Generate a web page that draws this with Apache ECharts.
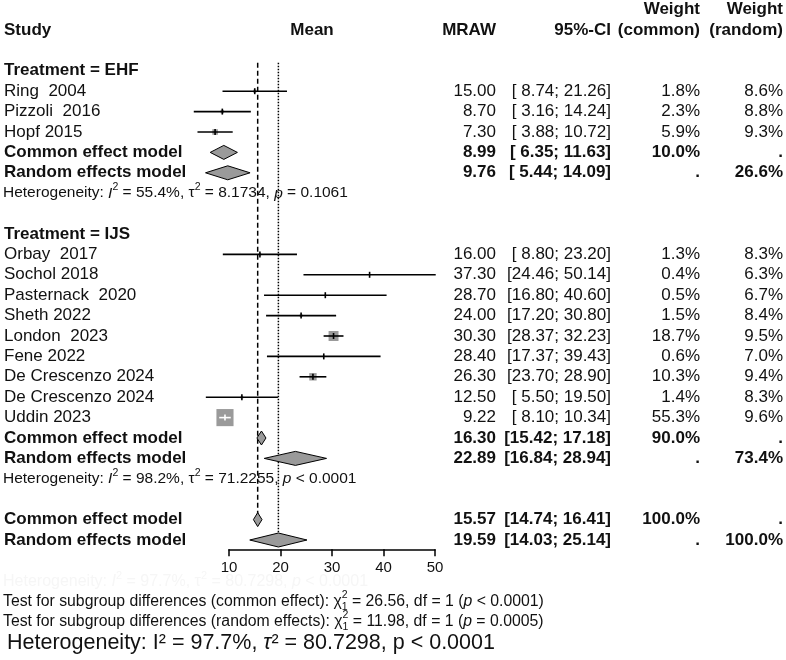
<!DOCTYPE html>
<html><head><meta charset="utf-8">
<script src="https://cdn.jsdelivr.net/npm/echarts@6/dist/echarts.min.js"></script>
<style>html,body{margin:0;padding:0;background:#fff}#chart{width:786px;height:660px}</style>
</head><body><div id="chart"></div>
<script>
// ---------------- data ----------------
const studyLabels = ["Ring  2004","Pizzoli  2016","Hopf 2015","Orbay  2017","Sochol 2018","Pasternack  2020","Sheth 2022","London  2023","Fene 2022","De Crescenzo 2024","De Crescenzo 2024","Uddin 2023"];
const studyMean  = [15.00, 8.70, 7.30, 16.00, 37.30, 28.70, 24.00, 30.30, 28.40, 26.30, 12.50, 9.22];
const studyLower = [8.74, 3.16, 3.88, 8.80, 24.46, 16.80, 17.20, 28.37, 17.37, 23.70, 5.50, 8.10];
const studyUpper = [21.26, 14.24, 10.72, 23.20, 50.14, 40.60, 30.80, 32.23, 39.43, 28.90, 19.50, 10.34];
const weightCommon = [1.8, 2.3, 5.9, 1.3, 0.4, 0.5, 1.5, 18.7, 0.6, 10.3, 1.4, 55.3];
const weightRandom = [8.6, 8.8, 9.3, 8.3, 6.3, 6.7, 8.4, 9.5, 7.0, 9.4, 8.3, 9.6];

const groupNames = ["EHF", "IJS"];
const groupSizes = [3, 9];
const groupCommon = [[8.99, 6.35, 11.63], [16.30, 15.42, 17.18]];
const groupCommonWeight = [10.0, 90.0];
const groupRandom = [[9.76, 5.44, 14.09], [22.89, 16.84, 28.94]];
const groupRandomWeight = [26.6, 73.4];
const groupI2 = ["55.4%", "98.2%"];
const groupTau2 = ["8.1734", "71.2255"];
const groupP = ["= 0.1061", "< 0.0001"];

const overallCommon = [15.57, 14.74, 16.41];
const overallRandom = [19.59, 14.03, 25.14];
const overallI2 = "97.7%", overallTau2 = "80.7298", overallP = "< 0.0001";
const testCommon = ["26.56", "1", "< 0.0001"];
const testRandom = ["11.98", "1", "= 0.0005"];
const axisTicks = [10, 20, 30, 40, 50];

// ---------------- layout helpers ----------------
const FONT = "'Liberation Sans', Arial, Helvetica, sans-serif";
const INK = '#111';
const GRAY = '#9a9a9a';
const ROW_FS = 17, HET_FS = 15.5, TEST_FS = 15.8, BIG_FS = 21.5;
const COL = { label: 4, mean: 496, ci: 611, wc: 700, wr: 783 };

const mctx = document.createElement('canvas').getContext('2d');
function measure(t, size, weight, style) {
  mctx.font = (style || 'normal') + ' ' + (weight || 'normal') + ' ' + size + 'px ' + FONT;
  return mctx.measureText(t).width;
}
function txt(t, x, y, o) {
  o = o || {};
  return {
    type: 'text', x: x, y: y, silent: true,
    style: {
      text: t, fill: o.fill || INK, fontSize: o.size || ROW_FS, fontFamily: FONT,
      fontWeight: o.weight || 'normal', fontStyle: o.style || 'normal',
      textAlign: o.align || 'left', textVerticalAlign: 'middle'
    }
  };
}
// sequence of text runs (superscripts, stacked sub/sup) placed with measured widths
function runs(pieces, x, y, base, fill) {
  const out = [];
  let cx = x;
  pieces.forEach(p => {
    if (p.stack) {
      let w = 0;
      p.stack.forEach(s => {
        const sz = s.size || base * 0.68;
        out.push(txt(s.t, cx, y + s.dy, { size: sz, fill: fill }));
        w = Math.max(w, measure(s.t, sz));
      });
      cx += w;
    } else {
      const sz = p.size || base;
      out.push(txt(p.t, cx, y + (p.dy || 0), { size: sz, style: p.style, weight: p.weight, fill: fill }));
      cx += measure(p.t, sz, p.weight, p.style);
    }
  });
  return out;
}
function hetPieces(i2, tau2, p, base) {
  const sup = { size: base * 0.68, dy: -base * 0.38 };
  return [
    { t: 'Heterogeneity: ' }, { t: 'I', style: 'italic' }, Object.assign({ t: '2' }, sup),
    { t: ' = ' + i2 + ', τ' }, Object.assign({ t: '2' }, sup),
    { t: ' = ' + tau2 + ', ' }, { t: 'p', style: 'italic' }, { t: ' ' + p }
  ];
}
const fmt = v => v.toFixed(2);
const fmtCI = (lo, hi) => '[' + (lo < 10 ? ' ' : '') + fmt(lo) + '; ' + (hi < 10 ? ' ' : '') + fmt(hi) + ']';
const fmtW = v => v.toFixed(1) + '%';

// ---------------- rows ----------------
const rows = [{ row: 0, kind: 'header' }];
const studyRow = [];
const modelMarks = []; // [mean, lo, hi, row]
let r = 2, si = 0;
groupNames.forEach((g, gi) => {
  rows.push({ row: r++, kind: 'group', label: 'Treatment = ' + g });
  for (let k = 0; k < groupSizes[gi]; k++) { studyRow[si] = r; rows.push({ row: r++, kind: 'study', i: si }); si++; }
  rows.push({ row: r, kind: 'model', label: 'Common effect model', est: groupCommon[gi], wc: fmtW(groupCommonWeight[gi]), wr: '.' });
  modelMarks.push(groupCommon[gi].concat([r++]));
  rows.push({ row: r, kind: 'model', label: 'Random effects model', est: groupRandom[gi], wc: '.', wr: fmtW(groupRandomWeight[gi]) });
  modelMarks.push(groupRandom[gi].concat([r++]));
  rows.push({ row: r++, kind: 'het', gi: gi });
  r++;
});
const overallCommonRow = r;
rows.push({ row: r, kind: 'model', label: 'Common effect model', est: overallCommon, wc: '100.0%', wr: '.' });
modelMarks.push(overallCommon.concat([r++]));
const overallRandomRow = r;
rows.push({ row: r, kind: 'model', label: 'Random effects model', est: overallRandom, wc: '.', wr: '100.0%' });
modelMarks.push(overallRandom.concat([r++]));

// ---------------- chart ----------------
const chart = echarts.init(document.getElementById('chart'), null, { renderer: 'canvas' });

const textSeries = {
  type: 'custom', xAxisIndex: 0, yAxisIndex: 0, clip: false, silent: true, z: 5,
  data: rows.map(d => [0, d.row]),
  renderItem: function (params, api) {
    const d = rows[params.dataIndex];
    const y = api.coord([0, api.value(1)])[1];
    const ch = [];
    if (d.kind === 'header') {
      const yt = y - 20.4;
      ch.push(txt('Study', COL.label, y, { weight: 'bold' }));
      ch.push(txt('Mean', 312, y, { weight: 'bold', align: 'center' }));
      ch.push(txt('MRAW', COL.mean, y, { weight: 'bold', align: 'right' }));
      ch.push(txt('95%-CI', COL.ci, y, { weight: 'bold', align: 'right' }));
      ch.push(txt('Weight', COL.wc, yt, { weight: 'bold', align: 'right' }));
      ch.push(txt('(common)', COL.wc, y, { weight: 'bold', align: 'right' }));
      ch.push(txt('Weight', COL.wr, yt, { weight: 'bold', align: 'right' }));
      ch.push(txt('(random)', COL.wr, y, { weight: 'bold', align: 'right' }));
    } else if (d.kind === 'group') {
      ch.push(txt(d.label, COL.label, y, { weight: 'bold' }));
    } else if (d.kind === 'study') {
      const i = d.i;
      ch.push(txt(studyLabels[i], COL.label, y));
      ch.push(txt(fmt(studyMean[i]), COL.mean, y, { align: 'right' }));
      ch.push(txt(fmtCI(studyLower[i], studyUpper[i]), COL.ci, y, { align: 'right' }));
      ch.push(txt(fmtW(weightCommon[i]), COL.wc, y, { align: 'right' }));
      ch.push(txt(fmtW(weightRandom[i]), COL.wr, y, { align: 'right' }));
    } else if (d.kind === 'model') {
      const b = { weight: 'bold', align: 'right' };
      ch.push(txt(d.label, COL.label, y, { weight: 'bold' }));
      ch.push(txt(fmt(d.est[0]), COL.mean, y, b));
      ch.push(txt(fmtCI(d.est[1], d.est[2]), COL.ci, y, b));
      ch.push(txt(d.wc, COL.wc, y, b));
      ch.push(txt(d.wr, COL.wr, y, b));
    } else if (d.kind === 'het') {
      runs(hetPieces(groupI2[d.gi], groupTau2[d.gi], groupP[d.gi], HET_FS), 3, y, HET_FS).forEach(e => ch.push(e));
    }
    return { type: 'group', children: ch };
  }
};

const studySeries = {
  type: 'custom', xAxisIndex: 0, yAxisIndex: 0, clip: false, silent: true, z: 4,
  data: studyMean.map((m, i) => [m, studyLower[i], studyUpper[i], studyRow[i], weightCommon[i]]),
  renderItem: function (params, api) {
    const c = api.coord([api.value(0), api.value(3)]);
    const lo = api.coord([api.value(1), api.value(3)]);
    const hi = api.coord([api.value(2), api.value(3)]);
    const side = 2.3 * Math.sqrt(api.value(4));
    const inside = (c[0] - lo[0] < side / 2) && (hi[0] - c[0] < side / 2);
    const col = inside ? '#fff' : '#000';
    return {
      type: 'group', children: [
        { type: 'rect', shape: { x: c[0] - side / 2, y: c[1] - side / 2, width: side, height: side }, style: { fill: GRAY } },
        { type: 'line', shape: { x1: lo[0], y1: c[1], x2: hi[0], y2: c[1] }, style: { stroke: col, lineWidth: 1.6 } },
        { type: 'line', shape: { x1: c[0], y1: c[1] - 3, x2: c[0], y2: c[1] + 3 }, style: { stroke: col, lineWidth: 1.6 } }
      ]
    };
  }
};

const diamondSeries = {
  type: 'custom', xAxisIndex: 0, yAxisIndex: 0, clip: false, silent: true, z: 4,
  data: modelMarks,
  renderItem: function (params, api) {
    const c = api.coord([api.value(0), api.value(3)]);
    const lo = api.coord([api.value(1), api.value(3)]);
    const hi = api.coord([api.value(2), api.value(3)]);
    const h = 7;
    return {
      type: 'polygon',
      shape: { points: [[lo[0], c[1]], [c[0], c[1] - h], [hi[0], c[1]], [c[0], c[1] + h]] },
      style: { fill: GRAY, stroke: '#000', lineWidth: 1 }
    };
  }
};

const refLine = (x, y1, y2, dash) => ({
  type: 'line', xAxisIndex: 0, yAxisIndex: 0, silent: true, symbol: 'none', z: 2,
  data: [[x, y1], [x, y2]],
  lineStyle: { color: '#000', width: 1.5, type: dash }
});

// footer
const footer = [];
runs([{ t: 'Heterogeneity: ' }, { t: 'I', style: 'italic' }, { t: '2', size: 11, dy: -6 }, { t: ' = ' + overallI2 + ', τ' }, { t: '2', size: 11, dy: -6 }, { t: ' = ' + overallTau2 + ', ' }, { t: 'p', style: 'italic' }, { t: ' ' + overallP }], 3, 582, 16, '#f6f6f6').forEach(e => footer.push(e));
function testPieces(kind, v) {
  return [
    { t: 'Test for subgroup differences (' + kind + '): χ' },
    { stack: [{ t: '2', dy: -7, size: 10.5 }, { t: '1', dy: 5, size: 10.5 }] },
    { t: ' = ' + v[0] + ', df = ' + v[1] + ' (' }, { t: 'p', style: 'italic' }, { t: ' ' + v[2] + ')' }
  ];
}
runs(testPieces('common effect', testCommon), 3, 602, TEST_FS).forEach(e => footer.push(e));
runs(testPieces('random effects', testRandom), 3, 622, TEST_FS).forEach(e => footer.push(e));
runs([{ t: 'Heterogeneity: I² = ' + overallI2 + ', ' }, { t: 'τ', style: 'italic' }, { t: '² = ' + overallTau2 + ', p ' + overallP }], 7, 643, BIG_FS).forEach(e => footer.push(e));

chart.setOption({
  animation: false,
  backgroundColor: '#fff',
  grid: [
    { left: 177.5, width: 309, top: 9.6, height: 550.8 },
    { left: 229, width: 206, top: 548, height: 1.3 }
  ],
  xAxis: [
    { type: 'value', gridIndex: 0, min: 0, max: 60, show: false },
    {
      type: 'value', gridIndex: 1, min: axisTicks[0], max: axisTicks[axisTicks.length - 1],
      interval: axisTicks[1] - axisTicks[0],
      axisLine: { show: true, onZero: false, lineStyle: { color: '#000', width: 1.5 } },
      axisTick: { show: true, inside: false, length: 7, lineStyle: { color: '#000', width: 1.5 } },
      axisLabel: { color: INK, fontSize: 15, fontFamily: FONT, margin: 11 },
      splitLine: { show: false }
    }
  ],
  yAxis: [
    { type: 'value', gridIndex: 0, min: -1, max: 26, inverse: true, show: false },
    { type: 'value', gridIndex: 1, min: 0, max: 1, show: false }
  ],
  series: [
    refLine(overallCommon[0], 1.6, overallCommonRow, [5, 3]),
    refLine(overallRandom[0], 1.6, overallRandomRow - 0.35, [1.5, 1.5]),
    studySeries, diamondSeries, textSeries
  ],
  graphic: { elements: footer }
});
</script></body></html>
